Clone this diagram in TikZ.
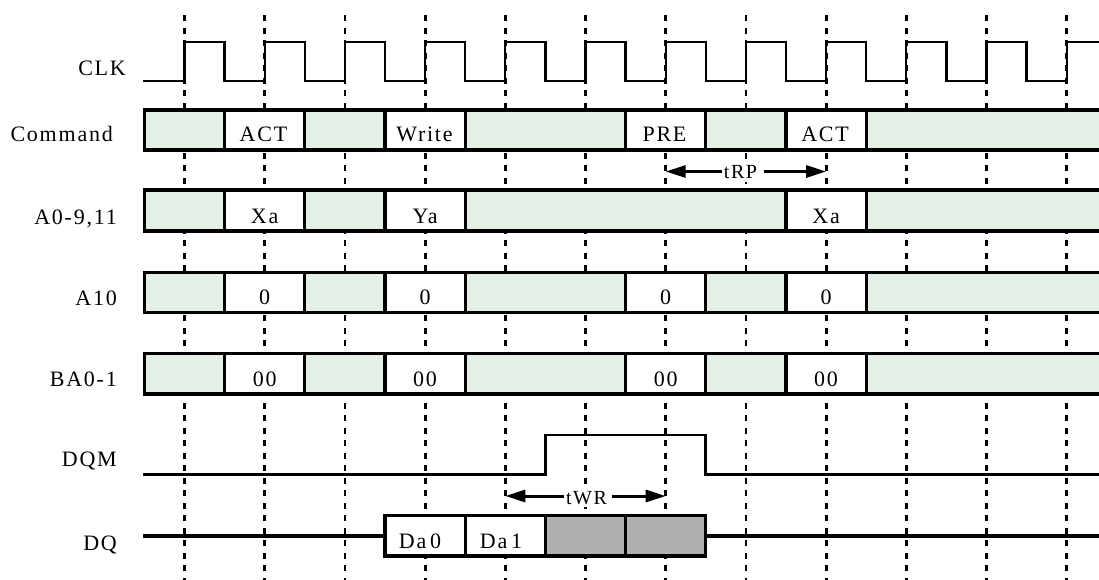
\documentclass[tikz,border=0pt]{standalone}
\usepackage{fontspec}
\newfontfamily\lblfont{Liberation Serif}[LetterSpace=8]
\usetikzlibrary{arrows.meta}
\definecolor{busgreen}{RGB}{228,239,230}
\definecolor{dqgray}{RGB}{176,176,176}
\newcommand\lbl{\lblfont\fontsize{22}{26}\selectfont}
\newcommand\lblsmall{\lblfont\fontsize{20}{24}\selectfont}
\tikzset{
  busseg/.style={draw=black, line width=3.3pt, fill=busgreen},
  buswhite/.style={draw=black, line width=3.3pt, fill=white},
  busgray/.style={draw=black, line width=3.3pt, fill=dqgray},
  gridline/.style={line width=2.8pt, dash pattern=on 6pt off 6.5pt},
  wave/.style={line width=2.3pt, line join=miter},
  signame/.style={font=\lbl, anchor=base east, inner sep=0pt},
  busval/.style={font=\lbl, anchor=base, inner sep=0pt},
  dimarrow/.style={line width=3pt, -{Triangle[length=20pt,width=12pt]}},
  dimlabel/.style={font=\lblsmall, anchor=base, inner xsep=2pt, inner ysep=3pt, fill=white},
}
\begin{document}
\begin{tikzpicture}[x=1pt,y=-1pt]
\useasboundingbox (0,0) rectangle (1099,579);
\clip (0,0) rectangle (1099,579);
% dashed clock grid
\foreach \k in {0,...,11}{
  \coordinate (g\k) at ({184.5+80.2*\k},0);
  \draw[gridline] ({184.5+80.2*\k},15) -- ({184.5+80.2*\k},585);
}
% CLK
\draw[wave] (143.3,81) \foreach \k in {0,...,10}{ -- ({184.5+80.2*\k},81) -- ({184.5+80.2*\k},42) -- ({224.6+80.2*\k},42) -- ({224.6+80.2*\k},81) } -- (1066.7,81) -- (1066.7,42) -- (1110,42);
% Command row
\def\T{110}\def\B{150}
\draw[busseg]   (144.3,\T) rectangle (224.6,\B);
\draw[buswhite] (224.6,\T) rectangle (304.8,\B);
\draw[busseg]   (304.8,\T) rectangle (385.0,\B);
\draw[buswhite] (385.0,\T) rectangle (465.2,\B);
\draw[busseg]   (465.2,\T) rectangle (625.6,\B);
\draw[buswhite] (625.6,\T) rectangle (705.8,\B);
\draw[busseg]   (705.8,\T) rectangle (786.0,\B);
\draw[buswhite] (786.0,\T) rectangle (866.2,\B);
\draw[busseg]   (866.2,\T) rectangle (1110,\B);
\node[busval] (c1) at (263.5,141.2) {ACT};
\node[busval] (c2) at (424.5,141.2) {Write};
\node[busval] (c3) at (664.5,141.2) {PRE};
\node[busval] (c4) at (825,141.2) {ACT};
% A0-9,11 row
\def\T{190}\def\B{231}
\draw[busseg]   (144.3,\T) rectangle (224.6,\B);
\draw[buswhite] (224.6,\T) rectangle (304.8,\B);
\draw[busseg]   (304.8,\T) rectangle (385.0,\B);
\draw[buswhite] (385.0,\T) rectangle (465.2,\B);
\draw[busseg]   (465.2,\T) rectangle (786.0,\B);
\draw[buswhite] (786.0,\T) rectangle (866.2,\B);
\draw[busseg]   (866.2,\T) rectangle (1110,\B);
\node[busval] (a1) at (264.7,223.5) {Xa};
\node[busval] (a2) at (425.1,223.5) {Ya};
\node[busval] (a3) at (826.1,223.5) {Xa};
% A10 row
\def\T{272.5}\def\B{312.5}
\draw[busseg]   (144.3,\T) rectangle (224.6,\B);
\draw[buswhite] (224.6,\T) rectangle (304.8,\B);
\draw[busseg]   (304.8,\T) rectangle (385.0,\B);
\draw[buswhite] (385.0,\T) rectangle (465.2,\B);
\draw[busseg]   (465.2,\T) rectangle (625.6,\B);
\draw[buswhite] (625.6,\T) rectangle (705.8,\B);
\draw[busseg]   (705.8,\T) rectangle (786.0,\B);
\draw[buswhite] (786.0,\T) rectangle (866.2,\B);
\draw[busseg]   (866.2,\T) rectangle (1110,\B);
\node[busval] (t1) at (264.7,304.5) {0};
\node[busval] (t2) at (425.1,304.5) {0};
\node[busval] (t3) at (665.7,304.5) {0};
\node[busval] (t4) at (826.1,304.5) {0};
% BA0-1 row
\def\T{353.5}\def\B{394}
\draw[busseg]   (144.3,\T) rectangle (224.6,\B);
\draw[buswhite] (224.6,\T) rectangle (304.8,\B);
\draw[busseg]   (304.8,\T) rectangle (385.0,\B);
\draw[buswhite] (385.0,\T) rectangle (465.2,\B);
\draw[busseg]   (465.2,\T) rectangle (625.6,\B);
\draw[buswhite] (625.6,\T) rectangle (705.8,\B);
\draw[busseg]   (705.8,\T) rectangle (786.0,\B);
\draw[buswhite] (786.0,\T) rectangle (866.2,\B);
\draw[busseg]   (866.2,\T) rectangle (1110,\B);
\node[busval] (b1) at (264.7,386) {00};
\node[busval] (b2) at (425.1,386) {00};
\node[busval] (b3) at (665.7,386) {00};
\node[busval] (b4) at (826.1,386) {00};
% DQM
\draw[wave, line width=2.8pt] (143.3,474.3) -- (545.4,474.3) -- (545.4,435) -- (705.8,435) -- (705.8,474.3) -- (1110,474.3);
% DQ
\draw[line width=3.3pt] (143.3,536) -- (385.0,536);
\draw[line width=3.3pt] (705.8,536) -- (1110,536);
\def\T{515.7}\def\B{556}
\draw[buswhite] (385.0,\T) rectangle (465.2,\B);
\draw[buswhite] (465.2,\T) rectangle (545.4,\B);
\draw[busgray]  (545.4,\T) rectangle (625.6,\B);
\draw[busgray]  (625.6,\T) rectangle (705.8,\B);
\node[busval] (d1) at (420,548.3) {Da\,0};
\node[busval] (d2) at (501,548.3) {Da\,1};
% signal names
\node[signame] (nclk) at (126,75) {CLK};
\node[signame] (ncmd) at (113,141) {Command};
\node[signame] (nadr) at (117,224) {A0-9,11};
\node[signame] (na10) at (117,305) {A10};
\node[signame] (nba)  at (117,386) {BA0-1};
\node[signame] (ndqm) at (117,466) {DQM};
\node[signame] (ndq)  at (117,550) {DQ};
% tRP
\coordinate (rpL) at (665.7,171.5);
\coordinate (rpR) at (826.1,171.5);
\node[dimlabel] (trp) at (740.5,178.5) {tRP};
\draw[dimarrow] (trp.west |- rpL) -- (rpL);
\draw[dimarrow] ([xshift=5pt]trp.east |- rpR) -- (rpR);
% tWR
\coordinate (wrL) at (505.3,496);
\coordinate (wrR) at (665.7,496);
\node[dimlabel] (twr) at (586.5,504) {tWR};
\draw[dimarrow] (twr.west |- wrL) -- (wrL);
\draw[dimarrow] ([xshift=3pt]twr.east |- wrR) -- (wrR);
\end{tikzpicture}
\end{document}
